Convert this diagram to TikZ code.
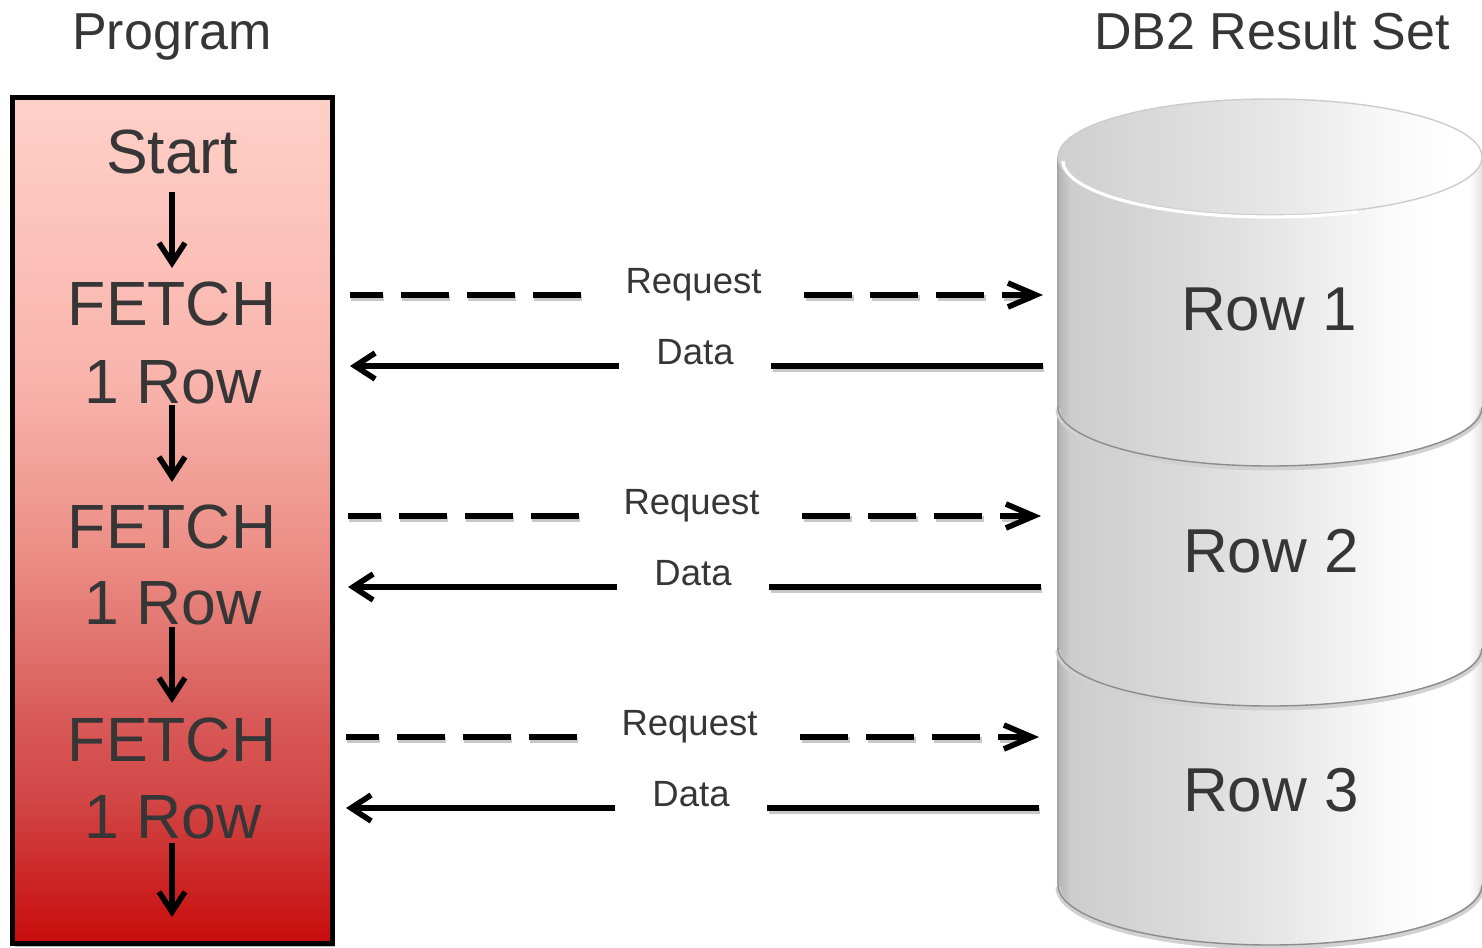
\documentclass[tikz,border=0pt]{standalone}
\usepackage{fontspec}
\setmainfont{Liberation Sans}
\usetikzlibrary{arrows.meta,calc}
\definecolor{txtgray}{HTML}{363636}
\definecolor{rbA}{HTML}{C80C0C}
\definecolor{rbB}{HTML}{D24646}
\definecolor{rbC}{HTML}{D85A58}
\definecolor{rbD}{HTML}{EB8C84}
\definecolor{rbE}{HTML}{F9B4AC}
\definecolor{rbF}{HTML}{FFD0C8}
\definecolor{cyA}{HTML}{B4B4B4}
\definecolor{cyB}{HTML}{CDCDCD}
\definecolor{cyC}{HTML}{DADADA}
\definecolor{cyD}{HTML}{E8E8E8}
\definecolor{cyE}{HTML}{FAFAFA}
\definecolor{cyF}{HTML}{E4E4E4}
\definecolor{ctA}{HTML}{CFCFCF}
\definecolor{ctB}{HTML}{E6E6E6}
\definecolor{ctC}{HTML}{F8F8F8}
\pgfdeclareverticalshading{progshade}{100bp}{color(0bp)=(rbA); color(25bp)=(rbA); color(33.5bp)=(rbB); color(38.2bp)=(rbC); color(47.6bp)=(rbD); color(58.3bp)=(rbE); color(75bp)=(rbF); color(100bp)=(rbF)}
\pgfdeclarehorizontalshading{cylside}{100bp}{color(0bp)=(cyA); color(25bp)=(cyA); color(26.5bp)=(cyB); color(40bp)=(cyC); color(52bp)=(cyD); color(64bp)=(cyE); color(70bp)=(white); color(73.5bp)=(white); color(75bp)=(cyF); color(100bp)=(cyF)}
\pgfdeclarehorizontalshading{cyltop}{100bp}{color(0bp)=(ctA); color(25bp)=(ctA); color(50bp)=(ctB); color(64bp)=(ctC); color(71bp)=(white); color(75bp)=(white); color(100bp)=(white)}
\begin{document}
\begin{tikzpicture}[x=0.5pt,y=-0.5pt,
  title/.style={anchor=base,inner sep=0pt,text=txtgray,font=\fontsize{26}{30}\selectfont},
  boxtxt/.style={anchor=base,inner sep=0pt,text=txtgray,font=\fontsize{31.25}{36}\selectfont},
  rowtxt/.style={anchor=base,inner sep=0pt,text=txtgray,font=\fontsize{31}{36}\selectfont},
  msgreq/.style={anchor=base,inner sep=0pt,minimum width=110.5pt,text=txtgray,font=\fontsize{18.25}{22}\selectfont},
  msgdata/.style={anchor=base,inner sep=0pt,minimum width=76pt,text=txtgray,font=\fontsize{18.25}{22}\selectfont},
  progbox/.style={shade,shading=progshade,draw=black,line width=2.5pt},
  flow/.style={line width=2.8pt,-{Straight Barb[length=10pt,width=13pt]}},
  reqline/.style={line width=2.8pt,dash pattern=on 24pt off 9pt},
  reqarrow/.style={reqline,-{Straight Barb[length=14pt,width=12pt]}},
  dataline/.style={line width=2.8pt},
  dataarrow/.style={dataline,-{Straight Barb[length=10pt,width=13pt]}},
  lshadow/.style={draw=black!22,line width=2.8pt},
  cylseg/.style={shade,shading=cylside},
  rim/.style={draw=black!45,line width=0.7pt},
  rimshadow/.style={draw=black!18,line width=2.5pt}
]
\useasboundingbox (0,0) rectangle (1482,947);
\clip (0,0) rectangle (1482,947);

% titles
\node[title] (tprog) at (172,50) {Program};
\node[title] (tdb) at (1272,50) {DB2 Result Set};

% program box
\fill[black!25] (15,101) rectangle (335,947);
\draw[progbox] (12.5,98) rectangle (332,943);
\coordinate (progS) at (172,943);
\node[boxtxt] (st) at (172,173) {Start};
\node[boxtxt] (f1) at (172,325) {FETCH};
\node[boxtxt] (r1) at (173,403) {1 Row};
\node[boxtxt] (f2) at (172,548) {FETCH};
\node[boxtxt] (r2) at (173,624) {1 Row};
\node[boxtxt] (f3) at (172,761) {FETCH};
\node[boxtxt] (r3) at (173,838) {1 Row};
\draw[flow] ($(st.base)+(0,19)$) -- ($(f1.base)+(0,-57)$);
\draw[flow] ($(r1.base -| f1.base)+(0,2)$) -- ($(f2.base)+(0,-66)$);
\draw[flow] ($(r2.base -| f2.base)+(0,3)$) -- ($(f3.base)+(0,-58)$);
\draw[flow] ($(r3.base -| f3.base)+(0,5)$) -- ($(progS)+(0,-26)$);

% cylinder
\path[cylseg] (1058,648) -- (1058,885) arc[start angle=180,end angle=0,x radius=212,y radius=60] -- (1482,648) -- cycle;
\path[cylseg] (1058,407) -- (1058,648) arc[start angle=180,end angle=0,x radius=212,y radius=58] -- (1482,407) -- cycle;
\path[cylseg] (1058,157) -- (1058,407) arc[start angle=180,end angle=0,x radius=212,y radius=59] -- (1482,157) -- cycle;
\draw[black!35,line width=0.8pt] (1058,157) -- (1058,885);
\foreach \c/\r in {407/59,648/58,885/60}{
  \draw[rimshadow] (1058,\c+2) arc[start angle=180,end angle=0,x radius=212,y radius=\r];
  \draw[rim] (1058,\c) arc[start angle=180,end angle=0,x radius=212,y radius=\r];
}
\path[shade,shading=cyltop] (1270,157) ellipse[x radius=212,y radius=58];
\draw[black!20,line width=0.7pt] (1270,157) ellipse[x radius=212,y radius=58];
\draw[white,line width=1.6pt] (1063,161) arc[start angle=180,end angle=65,x radius=207,y radius=56];
\node[rowtxt] (row1) at (1269,330) {Row 1};
\node[rowtxt] (row2) at (1271,572) {Row 2};
\node[rowtxt] (row3) at (1271,811) {Row 3};

% messages
\coordinate (pq1) at (350,295); \coordinate (dq1) at (1043,295);
\coordinate (pd1) at (350,366); \coordinate (dd1) at (1043,366);
\coordinate (pq2) at (348,516); \coordinate (dq2) at (1041,516);
\coordinate (pd2) at (348,587); \coordinate (dd2) at (1041,587);
\coordinate (pq3) at (346,737); \coordinate (dq3) at (1039,737);
\coordinate (pd3) at (346,808); \coordinate (dd3) at (1039,808);

\node[msgreq] (rq1) at (693.5,293) {Request};
\node[msgdata] (dt1) at (695,364) {Data};
\node[msgreq] (rq2) at (691.5,514) {Request};
\node[msgdata] (dt2) at (693,585) {Data};
\node[msgreq] (rq3) at (689.5,735) {Request};
\node[msgdata] (dt3) at (691,806) {Data};

\foreach \i in {1,2,3}{
  % soft shadows
  \draw[lshadow,dash pattern=on 24pt off 9pt,dash phase=7.5pt] ([shift={(0.6pt,-1.4pt)}]pq\i) -- ([shift={(0.6pt,-1.4pt)}]pq\i -| rq\i.west);
  \draw[lshadow,dash pattern=on 24pt off 9pt] ([shift={(0.6pt,-1.4pt)}]pq\i -| rq\i.east) -- ([shift={(-6pt,-1.4pt)}]dq\i);
  \draw[lshadow] ([shift={(0.6pt,-1.4pt)}]dd\i) -- ([shift={(0.6pt,-1.4pt)}]dd\i -| dt\i.east);
  % lines
  \draw[reqline,dash phase=7.5pt] (pq\i) -- (pq\i -| rq\i.west);
  \draw[reqarrow] (pq\i -| rq\i.east) -- (dq\i);
  \draw[dataline] (dd\i) -- (dd\i -| dt\i.east);
  \draw[dataarrow] (dd\i -| dt\i.west) -- (pd\i);
}
\end{tikzpicture}
\end{document}
